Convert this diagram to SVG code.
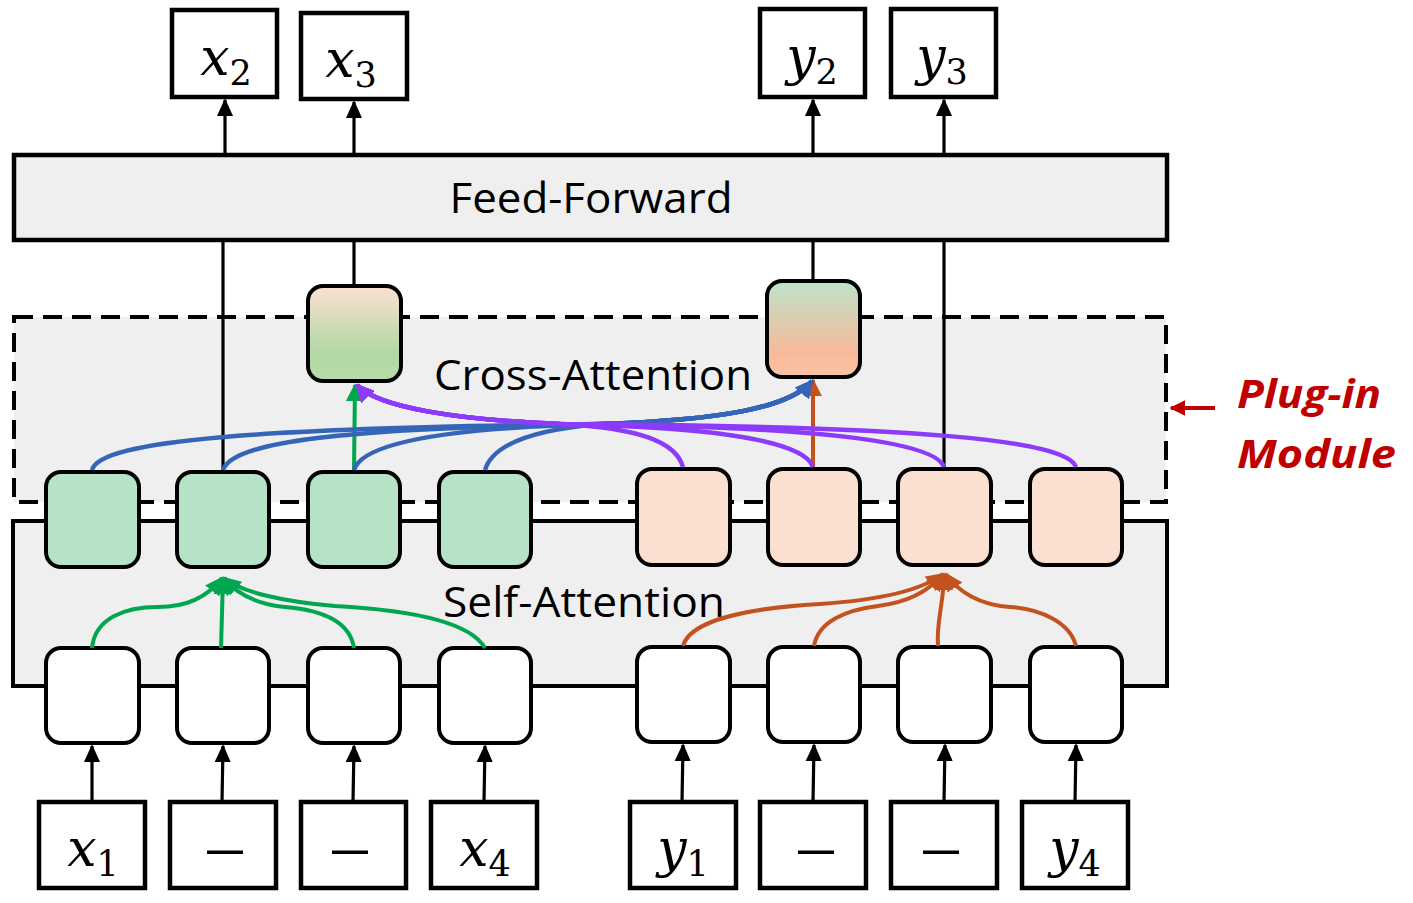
<svg xmlns="http://www.w3.org/2000/svg" width="1413" height="903" viewBox="0 0 1413 903">
<defs>
<style>
.box{fill:#fff;stroke:#000;stroke-width:4.5}
.rnode{stroke:#000;stroke-width:4;rx:15;ry:15}
.wn{fill:#fff}
.gn{fill:#b6e3c6}
.pn{fill:#fbe0d2}
.ln{stroke:#000;stroke-width:3.2;fill:none}
.lbl{font-family:"Open Sans","Liberation Sans",sans-serif;font-size:42px;fill:#000}
.math{font-family:"DejaVu Serif","Liberation Serif",serif;font-style:italic;font-size:52px;fill:#000}
.sub{font-family:"DejaVu Serif","Liberation Serif",serif;font-style:normal;font-size:35px}
.dash{font-family:"Liberation Serif",serif;font-size:70px;fill:#000}
.g{stroke:#00a650;stroke-width:4;fill:none}
.o{stroke:#c4521e;stroke-width:4;fill:none}
.b{stroke:#3565b8;stroke-width:4.5;fill:none}
.p{stroke:#8c3bfa;stroke-width:4.5;fill:none}
</style>
<linearGradient id="gx" x1="0" y1="0" x2="0" y2="1">
<stop offset="0" stop-color="#fbe1d3"/>
<stop offset="0.7" stop-color="#b3d8a4"/>
<stop offset="1" stop-color="#b8dcaa"/>
</linearGradient>
<linearGradient id="gy" x1="0" y1="0" x2="0" y2="1">
<stop offset="0" stop-color="#bce4c9"/>
<stop offset="0.75" stop-color="#f8b99a"/>
<stop offset="1" stop-color="#f9c3a6"/>
</linearGradient>
<marker id="ak" viewBox="0 0 10 10" refX="9" refY="5" markerWidth="18" markerHeight="18" markerUnits="userSpaceOnUse" orient="auto"><path d="M0,0.5 L10,5 L0,9.5 z" fill="#000"/></marker>
<marker id="ag" viewBox="0 0 10 10" refX="9" refY="5" markerWidth="18" markerHeight="18" markerUnits="userSpaceOnUse" orient="auto"><path d="M0,0 L10,5 L0,10 z" fill="#00a650"/></marker>
<marker id="ao" viewBox="0 0 10 10" refX="9" refY="5" markerWidth="18" markerHeight="18" markerUnits="userSpaceOnUse" orient="auto"><path d="M0,0 L10,5 L0,10 z" fill="#c4521e"/></marker>
<marker id="ab" viewBox="0 0 10 10" refX="9" refY="5" markerWidth="18" markerHeight="18" markerUnits="userSpaceOnUse" orient="auto"><path d="M0,0 L10,5 L0,10 z" fill="#3565b8"/></marker>
<marker id="ap" viewBox="0 0 10 10" refX="9" refY="5" markerWidth="18" markerHeight="18" markerUnits="userSpaceOnUse" orient="auto"><path d="M0,0 L10,5 L0,10 z" fill="#8c3bfa"/></marker>
<marker id="ar" viewBox="0 0 10 10" refX="9" refY="5" markerWidth="16" markerHeight="16" markerUnits="userSpaceOnUse" orient="auto"><path d="M0,0 L10,5 L0,10 z" fill="#c00000"/></marker>
</defs>
<rect width="1413" height="903" fill="#fff"/>

<!-- layer regions -->
<g id="plugin-module">
<rect x="14" y="317" width="1152" height="185" fill="#efefef" stroke="#000" stroke-width="4" stroke-dasharray="19 10"/>
</g>
<g id="self-attention">
<rect x="13" y="521" width="1154" height="165" fill="#efefef" stroke="#000" stroke-width="4"/>
<text class="lbl" x="584" y="617" text-anchor="middle" textLength="282" lengthAdjust="spacingAndGlyphs">Self-Attention</text>
</g>
<g id="feed-forward">
<rect x="14" y="155" width="1153" height="85" fill="#efefef" stroke="#000" stroke-width="4.5"/>
<text class="lbl" x="591" y="213" text-anchor="middle" textLength="283" lengthAdjust="spacingAndGlyphs">Feed-Forward</text>
</g>
<text class="lbl" x="593" y="390" text-anchor="middle" textLength="318" lengthAdjust="spacingAndGlyphs">Cross-Attention</text>

<!-- connectors -->
<g id="connectors">
<line class="ln" x1="225" y1="155" x2="225" y2="100" marker-end="url(#ak)"/>
<line class="ln" x1="354" y1="155" x2="354" y2="102" marker-end="url(#ak)"/>
<line class="ln" x1="813" y1="155" x2="813" y2="100" marker-end="url(#ak)"/>
<line class="ln" x1="944" y1="155" x2="944" y2="100" marker-end="url(#ak)"/>
<line class="ln" x1="223" y1="240" x2="223" y2="472"/>
<line class="ln" x1="354" y1="240" x2="354" y2="287"/>
<line class="ln" x1="813" y1="240" x2="813" y2="282"/>
<line class="ln" x1="944" y1="240" x2="944" y2="470"/>
<line class="ln" x1="92" y1="802" x2="92" y2="746" marker-end="url(#ak)"/>
<line class="ln" x1="222" y1="802" x2="223" y2="746" marker-end="url(#ak)"/>
<line class="ln" x1="353" y1="802" x2="354" y2="746" marker-end="url(#ak)"/>
<line class="ln" x1="484" y1="802" x2="485" y2="746" marker-end="url(#ak)"/>
<line class="ln" x1="682" y1="802" x2="683" y2="745" marker-end="url(#ak)"/>
<line class="ln" x1="813" y1="802" x2="814" y2="745" marker-end="url(#ak)"/>
<line class="ln" x1="944" y1="802" x2="945" y2="745" marker-end="url(#ak)"/>
<line class="ln" x1="1075" y1="802" x2="1076" y2="745" marker-end="url(#ak)"/>
<line x1="1215" y1="408" x2="1171" y2="408" stroke="#c00000" stroke-width="4" marker-end="url(#ar)"/>
</g>

<!-- nodes -->
<g id="out-x2"><rect class="box" x="172" y="10" width="105" height="87"/><text class="math" x="226" y="75" text-anchor="middle">x<tspan class="sub" dy="10">2</tspan></text></g>
<g id="out-x3"><rect class="box" x="301" y="13" width="106" height="86"/><text class="math" x="351" y="77" text-anchor="middle">x<tspan class="sub" dy="10">3</tspan></text></g>
<g id="out-y2"><rect class="box" x="760" y="9" width="105" height="88"/><text class="math" x="812" y="74" text-anchor="middle">y<tspan class="sub" dy="10">2</tspan></text></g>
<g id="out-y3"><rect class="box" x="891" y="9" width="105" height="88"/><text class="math" x="942" y="74" text-anchor="middle">y<tspan class="sub" dy="10">3</tspan></text></g>

<g id="cross-x"><rect class="rnode" x="308" y="286" width="93" height="95" fill="url(#gx)"/></g>
<g id="cross-y"><rect class="rnode" x="767" y="281" width="93" height="96" fill="url(#gy)"/></g>

<g id="h-x1"><rect class="rnode gn" x="46" y="472" width="93" height="95"/></g>
<g id="h-x2"><rect class="rnode gn" x="177" y="472" width="92" height="95"/></g>
<g id="h-x3"><rect class="rnode gn" x="308" y="472" width="92" height="95"/></g>
<g id="h-x4"><rect class="rnode gn" x="439" y="472" width="92" height="95"/></g>
<g id="h-y1"><rect class="rnode pn" x="637" y="469" width="93" height="96"/></g>
<g id="h-y2"><rect class="rnode pn" x="768" y="469" width="92" height="96"/></g>
<g id="h-y3"><rect class="rnode pn" x="898" y="469" width="93" height="96"/></g>
<g id="h-y4"><rect class="rnode pn" x="1030" y="469" width="92" height="96"/></g>

<g id="e-x1"><rect class="rnode wn" x="46" y="648" width="93" height="95"/></g>
<g id="e-x2"><rect class="rnode wn" x="177" y="648" width="92" height="95"/></g>
<g id="e-x3"><rect class="rnode wn" x="308" y="648" width="92" height="95"/></g>
<g id="e-x4"><rect class="rnode wn" x="439" y="648" width="92" height="95"/></g>
<g id="e-y1"><rect class="rnode wn" x="637" y="647" width="93" height="95"/></g>
<g id="e-y2"><rect class="rnode wn" x="768" y="647" width="92" height="95"/></g>
<g id="e-y3"><rect class="rnode wn" x="898" y="647" width="93" height="95"/></g>
<g id="e-y4"><rect class="rnode wn" x="1030" y="647" width="92" height="95"/></g>

<g id="in-x1"><rect class="box" x="39" y="802" width="106" height="86"/><text class="math" x="93" y="866" text-anchor="middle">x<tspan class="sub" dy="10">1</tspan></text></g>
<g id="in-m1"><rect class="box" x="170" y="802" width="106" height="86"/><text class="dash" x="225" y="869" text-anchor="middle">–</text></g>
<g id="in-m2"><rect class="box" x="301" y="802" width="105" height="86"/><text class="dash" x="350" y="869" text-anchor="middle">–</text></g>
<g id="in-x4"><rect class="box" x="431" y="802" width="106" height="86"/><text class="math" x="485" y="866" text-anchor="middle">x<tspan class="sub" dy="10">4</tspan></text></g>
<g id="in-y1"><rect class="box" x="630" y="802" width="106" height="86"/><text class="math" x="683" y="866" text-anchor="middle">y<tspan class="sub" dy="10">1</tspan></text></g>
<g id="in-m3"><rect class="box" x="760" y="802" width="106" height="86"/><text class="dash" x="816" y="869" text-anchor="middle">–</text></g>
<g id="in-m4"><rect class="box" x="891" y="802" width="106" height="86"/><text class="dash" x="941" y="869" text-anchor="middle">–</text></g>
<g id="in-y4"><rect class="box" x="1022" y="802" width="106" height="86"/><text class="math" x="1075" y="866" text-anchor="middle">y<tspan class="sub" dy="10">4</tspan></text></g>

<!-- attention curves -->
<g id="attention-connectors">
<path class="g" d="M92,648 C95,618 125,607 158,607 C190,607 210,594 222,578" marker-end="url(#ag)"/>
<path class="g" d="M221,648 L223,578" marker-end="url(#ag)"/>
<path class="g" d="M354,648 C350,622 322,610 285,607 C255,604 235,592 224,578" marker-end="url(#ag)"/>
<path class="g" d="M485,648 C470,622 410,610 335,606 C285,602 240,592 224,578" marker-end="url(#ag)"/>

<path class="o" d="M683,646 C690,620 750,608 820,604 C880,600 922,590 943,574" marker-end="url(#ao)"/>
<path class="o" d="M814,646 C818,622 845,610 878,606 C910,602 930,590 943,574" marker-end="url(#ao)"/>
<path class="o" d="M938,646 C936,622 944,602 944,574" marker-end="url(#ao)"/>
<path class="o" d="M1076,646 C1070,622 1040,609 1010,607 C980,605 958,592 946,574" marker-end="url(#ao)"/>

<path class="g" d="M354,470 L355,385" marker-end="url(#ag)"/>
<path class="o" d="M813,467 L813,380" marker-end="url(#ao)"/>

<path class="b" d="M92,470 C100,440 260,428 600,424 C720,420 790,408 812,381" marker-end="url(#ab)"/>
<path class="b" d="M223,470 C232,442 340,428 600,424 C720,420 790,408 812,381" marker-end="url(#ab)"/>
<path class="b" d="M354,470 C362,444 440,428 600,424 C720,420 790,408 812,381" marker-end="url(#ab)"/>
<path class="b" d="M485,470 C492,446 530,430 600,424 C720,420 790,408 812,381" marker-end="url(#ab)"/>

<path class="p" d="M683,467 C676,442 640,428 560,424 C460,420 378,408 357,385" marker-end="url(#ap)"/>
<path class="p" d="M813,467 C805,442 720,427 560,424 C460,420 378,408 357,385" marker-end="url(#ap)"/>
<path class="p" d="M944,467 C935,442 820,426 560,424 C460,420 378,408 357,385" marker-end="url(#ap)"/>
<path class="p" d="M1076,467 C1066,440 920,426 560,424 C460,420 378,408 357,385" marker-end="url(#ap)"/>
</g>

<g id="plugin-label">
<text x="1237" y="408" font-family="Open Sans, Liberation Sans, sans-serif" font-weight="bold" font-style="italic" font-size="40" fill="#c00000" textLength="144" lengthAdjust="spacingAndGlyphs">Plug-in</text>
<text x="1237" y="468" font-family="Open Sans, Liberation Sans, sans-serif" font-weight="bold" font-style="italic" font-size="40" fill="#c00000" textLength="159" lengthAdjust="spacingAndGlyphs">Module</text>
</g>
</svg>
